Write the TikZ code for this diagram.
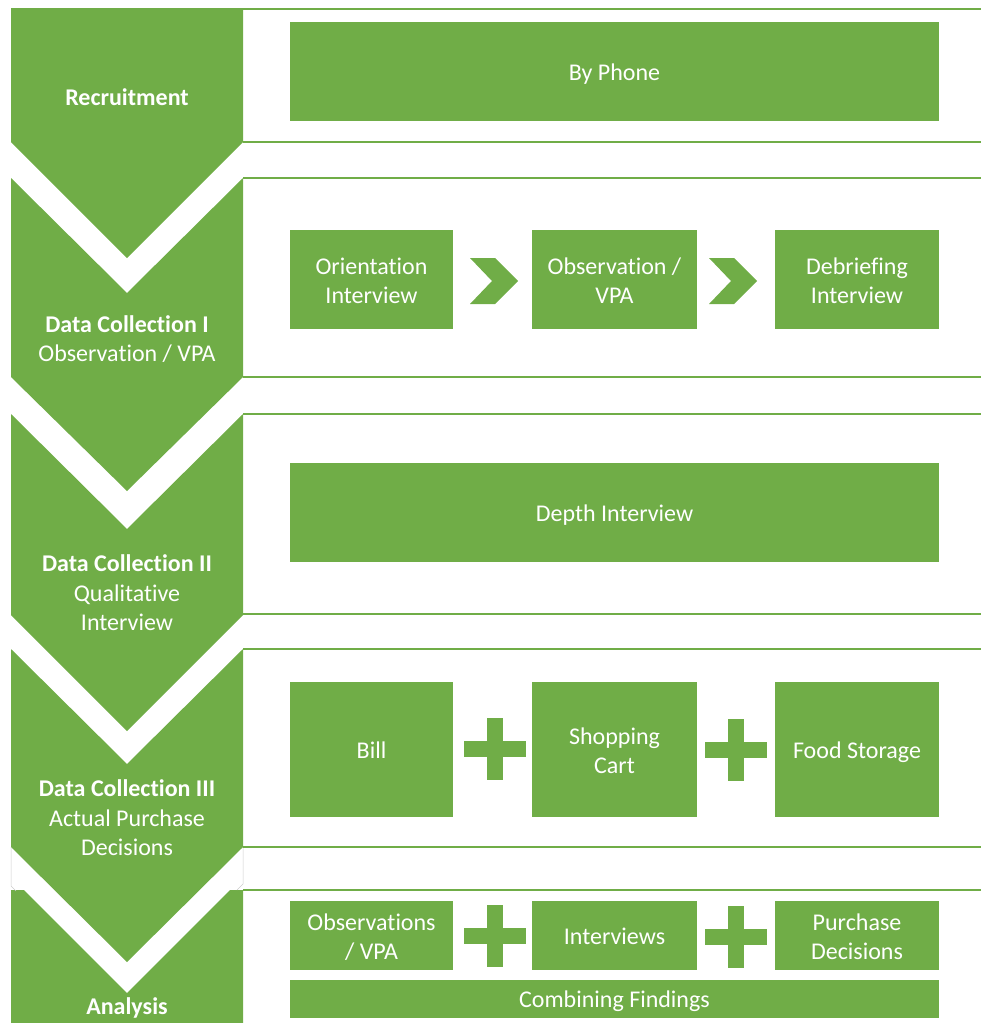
\documentclass[tikz,border=0pt]{standalone}
\usepackage{fontspec}
\setmainfont{Carlito}[Ligatures=NoCommon]
\usepackage{tikz}
\definecolor{pgreen}{HTML}{70AD47}

\begin{document}
\begin{tikzpicture}[x=1pt,y=-1pt,
	box/.style={fill=pgreen, text=white, align=center, inner sep=0pt, font=\fontsize{24}{29.5}\selectfont,
		execute at begin node={\rule{0pt}{22pt}}, execute at end node={\rule[-5pt]{0pt}{5pt}}},
	twoline/.style={box, text height=53pt},
	lbl/.style={text=white, align=center, inner sep=0pt, font=\fontsize{24}{29.5}\selectfont},
	band/.style={draw=pgreen, line width=2pt}]
	\useasboundingbox (0,0) rectangle (981,1023);
	% stage chevrons
	\fill[pgreen] (11,8) -- (243,8) -- (243,142) -- (127,258) -- (11,142) -- cycle;
	\fill[pgreen] (11,178) -- (127,293) -- (243,178) -- (243,377) -- (127,491) -- (11,377) -- cycle;
	\fill[pgreen] (11,414) -- (127,529) -- (243,414) -- (243,615) -- (127,731) -- (11,615) -- cycle;
	\fill[pgreen] (11,649) -- (127,764) -- (243,649) -- (243,847) -- (127,962) -- (11,847) -- cycle;
	\fill[pgreen] (11,890) -- (24,890) -- (127,993) -- (230,890) -- (243,890) -- (243,1023) -- (11,1023) -- cycle;
	\draw[gray!40, line width=0.5pt] (11,847) -- (11,886) -- (16,891);
	\draw[gray!40, line width=0.5pt] (243,848) -- (243,884) -- (237,890);
	% band lines
	\foreach \ly in {8.5,141.5,178,377,414,614,649,847,890}
		\draw[band] (243,\ly) -- (981,\ly);
	% stage labels
	\node[lbl] (rec) at (127,97) {\textbf{Recruitment}};
	\node[lbl] (dc1) at (127,339) {\textbf{Data Collection I}\\Observation / VPA};
	\node[lbl] (dc2) at (127,593) {\textbf{Data Collection II}\\Qualitative\\Interview};
	\node[lbl] (dc3) at (127,818) {\textbf{Data Collection III}\\Actual Purchase\\Decisions};
	\node[lbl] (ana) at (127,1008) {\textbf{Analysis}};
	% row 1
	\node[box, minimum width=649pt, minimum height=99pt] (phone) at (614.5,71.5) {By Phone};
	% row 2
	\node[twoline, minimum width=163pt, minimum height=99pt] (orient) at (371.5,279.5) {Orientation\\Interview};
	\node[twoline, minimum width=165pt, minimum height=99pt] (obs) at (614.5,279.5) {Observation /\\VPA};
	\node[twoline, minimum width=164pt, minimum height=99pt] (debrief) at (857,279.5) {Debriefing\\Interview};
	\foreach \ax in {470,709}
		\fill[pgreen] (\ax,258) -- ++(25,0) -- ++(23,23) -- ++(-23,23) -- ++(-25,0) -- ++(22,-23) -- cycle;
	% row 3
	\node[box, minimum width=649pt, minimum height=99pt] (depth) at (614.5,512.5) {Depth Interview};
	% row 4
	\node[box, minimum width=163pt, minimum height=135pt] (bill) at (371.5,749.5) {Bill};
	\node[twoline, minimum width=165pt, minimum height=135pt] (cart) at (614.5,749.5) {Shopping\\Cart};
	\node[box, minimum width=164pt, minimum height=135pt] (food) at (857,749.5) {Food Storage};
	% row 5
	\node[twoline, minimum width=163pt, minimum height=69pt] (obsv) at (371.5,935.5) {Observations\\/ VPA};
	\node[box, minimum width=165pt, minimum height=69pt] (intv) at (614.5,935.5) {Interviews};
	\node[twoline, minimum width=164pt, minimum height=69pt] (purch) at (857,935.5) {Purchase\\Decisions};
	\node[box, minimum width=649pt, minimum height=38pt] (comb) at (614.5,999) {Combining Findings};
	% plus signs
	\foreach \px/\py in {495/749,736/750,495/936,736/937} {
		\fill[pgreen] (\px-31,\py-8) rectangle (\px+31,\py+8);
		\fill[pgreen] (\px-8,\py-31) rectangle (\px+8,\py+31);
	}
\end{tikzpicture}
\end{document}
